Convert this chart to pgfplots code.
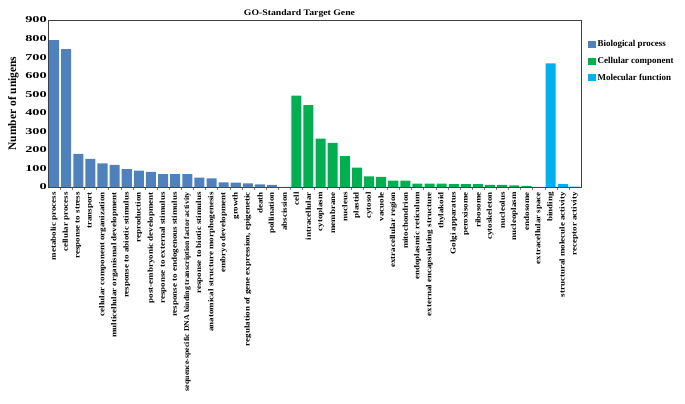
\documentclass[border=0pt]{standalone}
\usepackage{fontspec}
\setmainfont{Liberation Serif}
\newfontfamily\xfont[FakeStretch=1.2]{Liberation Serif}
\newfontfamily\xnarrow[FakeStretch=1.05]{Liberation Serif}
\newfontfamily\yfont[FakeStretch=1.6]{Liberation Serif}
\newfontfamily\tfont[FakeStretch=1.15]{Liberation Serif}
\usepackage{pgfplots}
\pgfplotsset{compat=1.18}
\definecolor{bpcol}{HTML}{4F81BD}
\definecolor{cccol}{HTML}{00B050}
\definecolor{mfcol}{HTML}{00B0F0}
\begin{document}
\begin{tikzpicture}
\begin{axis}[
  name=ax,
  scale only axis, width=533bp, height=167bp,
  xmin=-0.5, xmax=43.5, ymin=0, ymax=900,
  ytick={0,100,...,900},
  xtick={0,...,43},
  minor x tick num=1,
  major x tick style=transparent,
  major y tick style=transparent,
  tick align=outside, major tick length=3bp, minor tick length=3bp,
  xtick pos=bottom, ytick pos=left,
  axis line style={black!75},
  /pgf/number format/assume math mode=true,
  yticklabel style={font=\yfont\bfseries\fontsize{9}{10}\selectfont, inner xsep=1bp, xshift=3bp},
  xticklabel style={font=\xfont\bfseries\fontsize{7.5}{8}\selectfont, rotate=90, anchor=east, inner sep=2bp},
  ylabel={\bfseries Number of unigens},
  ylabel style={font=\fontsize{11.5}{13}\selectfont, yshift=2bp},
  title={\bfseries GO-Standard Target Gene},
  title style={font=\tfont\fontsize{8.5}{10}\selectfont, yshift=-7bp, xshift=-15bp},
  ybar, bar width=0.83, bar shift=0pt,
  clip=false,
  legend style={draw=none, at={(1.012,0.89)}, anchor=north west, inner sep=0pt,
    font=\bfseries\fontsize{9}{11}\selectfont, row sep=5bp, fill=none},
  legend cell align=left,
  legend image code/.code={\fill[#1] (0bp,-3.5bp) rectangle (8bp,3.5bp);},
  xticklabels={metabolic process, cellular process, response to stress, transport,
    cellular component organization, multicellular organismal development,
    response to abiotic stimulus, reproduction, post-embryonic development,
    response to external stimulus, response to endogenous stimulus,
    {\xnarrow sequence-specific DNA binding transcription factor activity},
    response to biotic stimulus, anatomical structure morphogenesis,
    embryo development, growth, {regulation of gene expression, epigenetic},
    death, pollination, abscission,
    cell, intracellular, cytoplasm, membrane, nucleus, plastid, cytosol, vacuole,
    extracellular region, mitochondrion, endoplasmic reticulum,
    external encapsulating structure, thylakoid, Golgi apparatus, peroxisome,
    ribosome, cytoskeleton, nucleolus, nucleoplasm, endosome, extracellular space,
    binding, structural molecule activity, receptor activity},
]
\addplot[fill=bpcol, draw=none] coordinates {
  (0,792) (1,743) (2,178) (3,151) (4,128) (5,119) (6,97) (7,88) (8,81) (9,70)
  (10,70) (11,70) (12,51) (13,47) (14,25) (15,24) (16,20) (17,14) (18,12) (19,1)
};
\addlegendentry{Biological process}
\addplot[fill=cccol, draw=none] coordinates {
  (20,493) (21,441) (22,261) (23,238) (24,167) (25,104) (26,57) (27,54) (28,35)
  (29,35) (30,18) (31,18) (32,18) (33,15) (34,15) (35,15) (36,12) (37,12) (38,9)
  (39,6) (40,1)
};
\addlegendentry{Cellular component}
\addplot[fill=mfcol, draw=none] coordinates {
  (41,666) (42,15) (43,2)
};
\addlegendentry{Molecular function}
\end{axis}
\pgfresetboundingbox
\path ([xshift=-48bp,yshift=-217bp]ax.south west) rectangle ([xshift=104bp,yshift=20bp]ax.north east);
\end{tikzpicture}
\end{document}
